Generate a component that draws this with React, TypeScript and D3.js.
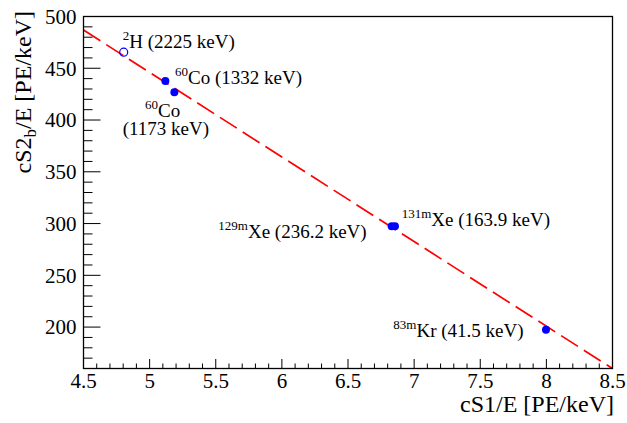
import React from "react";
import * as d3 from "d3";

const W = 627;
const H = 423;

// Data points (cS1/E, cS2b/E)
const pointX = [4.804, 5.119, 5.187, 6.83, 6.855, 7.997];
const pointY = [465.5, 437.6, 426.9, 297.4, 297.4, 197.5];
const pointOpen = [true, false, false, false, false, false];

// fit line endpoints
const fitX = [4.5, 8.5];
const fitY = [486.9, 160];

const xTicks = [4.5, 5, 5.5, 6, 6.5, 7, 7.5, 8, 8.5];
const yTicks = [200, 250, 300, 350, 400, 450, 500];

const labelSup = ["2", "60", "60", "129m", "131m", "83m"];
const labelMain = ["H (2225 keV)", "Co (1332 keV)", "Co", "Xe (236.2 keV)", "Xe (163.9 keV)", "Kr (41.5 keV)"];

const margin = { left: 83.5, right: 612.5, top: 16.5, bottom: 368.5 };

export default function App() {
  const x = d3.scaleLinear().domain([4.5, 8.5]).range([margin.left, margin.right]);
  const y = d3.scaleLinear().domain([160, 500]).range([margin.bottom, margin.top]);
  const tf = (size: number) => ({ fontFamily: "Liberation Serif", fontSize: size + "px" });

  const xMinor = d3.range(45, 86).map((v) => v / 10);
  const yMinor = d3.range(160, 501, 10);

  const line = d3.line<number>()
    .x((_, i) => x(fitX[i]))
    .y((_, i) => y(fitY[i]));

  const labelPos: [number, number][] = [
    [122.7, 48.3],
    [175, 84],
    [145, 116.7],
    [218.3, 238.3],
    [401.7, 226],
    [393.3, 336.7],
  ];

  return (
    <svg width={W} height={H} style={{ position: "absolute", left: 0, top: 0, fontFamily: "Liberation Serif" }}>
      <rect x={0} y={0} width={W} height={H} fill="#fff" />
      <path d={line([0, 1]) || ""} fill="none" stroke="#ff0000" strokeWidth={1.7} strokeDasharray="20 7" />
      {pointX.map((px, i) =>
        pointOpen[i] ? (
          <circle key={i} cx={x(px)} cy={y(pointY[i])} r={4} fill="none" stroke="#0000ff" strokeWidth={1.2} />
        ) : (
          <circle key={i} cx={x(px)} cy={y(pointY[i])} r={4} fill="#0000ff" />
        )
      )}
      <rect x={margin.left} y={margin.top} width={margin.right - margin.left} height={margin.bottom - margin.top}
        fill="none" stroke="#000" strokeWidth={1.3} />
      {xMinor.map((v, i) => {
        const major = Math.abs(v * 2 - Math.round(v * 2)) < 1e-6;
        return <line key={"xm" + i} x1={x(v)} x2={x(v)} y1={margin.bottom} y2={margin.bottom - (major ? 9.5 : 5)} stroke="#000" strokeWidth={1} />;
      })}
      {xTicks.map((v) => (
        <text key={"xt" + v} x={x(v)} y={387.5} textAnchor="middle" style={tf(21)} fill="#000">{v}</text>
      ))}
      {yMinor.map((v) => {
        const major = v % 50 === 0;
        return <line key={"ym" + v} x1={margin.left} x2={margin.left + (major ? 17 : 9)} y1={y(v)} y2={y(v)} stroke="#000" strokeWidth={1} />;
      })}
      {yTicks.map((v) => (
        <text key={"yt" + v} x={76.5} y={y(v) + 7.3} textAnchor="end" style={tf(21)} fill="#000">{v}</text>
      ))}
      <text x={614} y={411.5} textAnchor="end" style={tf(24)} fill="#000">cS1/E [PE/keV]</text>
      <text transform="translate(30.5,11) rotate(-90)" textAnchor="end" style={tf(24)} fill="#000">
        cS2<tspan style={{ fontSize: "17px" }} dy={5}>b</tspan><tspan dy={-5}>/E [PE/keV]</tspan>
      </text>
      {labelMain.map((m, i) => (
        <text key={"lb" + i} x={labelPos[i][0]} y={labelPos[i][1]} style={tf(19)} fill="#000">
          <tspan style={{ fontSize: "13px" }} dy={-8}>{labelSup[i]}</tspan>
          <tspan dy={8}>{m}</tspan>
        </text>
      ))}
      <text x={122.7} y={135} style={tf(19)} fill="#000">(1173 keV)</text>
    </svg>
  );
}
